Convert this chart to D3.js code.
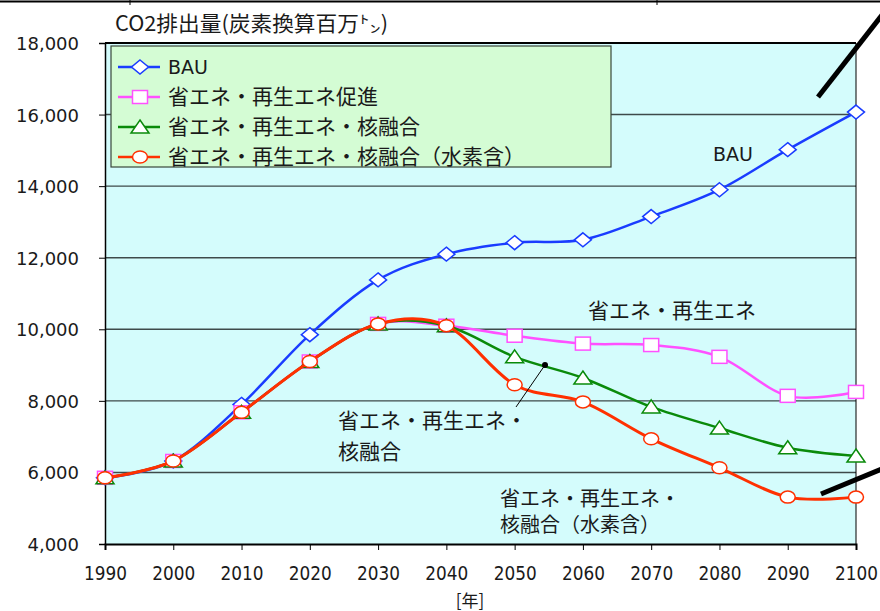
<!DOCTYPE html>
<html><head><meta charset="utf-8">
<script src="https://cdn.jsdelivr.net/npm/d3@7"></script>
<style>
html,body{margin:0;padding:0;background:#fff;}
svg{display:block;}
text{font-family:"DejaVu Sans","Noto Sans CJK JP",sans-serif;fill:#1a1a1a;}
.jp{font-family:"Noto Sans CJK JP","DejaVu Sans",sans-serif;}
</style></head>
<body>
<svg id="c" width="880" height="611"></svg>
<script>
const years = [1990,2000,2010,2020,2030,2040,2050,2060,2070,2080,2090,2100];
const bau   = [5850,6320,7900,9850,11380,12100,12420,12500,13150,13900,15020,16070];
const ren   = [5850,6320,7680,9100,10150,10100,9820,9600,9560,9230,8140,8250];
const fus   = [5850,6320,7680,9100,10150,10100,9230,8640,7830,7240,6690,6460];
const hyd   = [5850,6320,7680,9100,10150,10100,8450,7970,6940,6130,5310,5310];
const yTicks = [4000,6000,8000,10000,12000,14000,16000,18000];
const seriesNames = ["BAU","省エネ・再生エネ促進","省エネ・再生エネ・核融合","省エネ・再生エネ・核融合（水素含）"];
const seriesColors = ["#1a3cff","#ff50ff","#0a8a0a","#ff3000"];
const seriesShapes = ["diamond","square","triangle","circle"];

const svg = d3.select("#c");
const x = d3.scaleLinear().domain([1990,2100]).range([105,856]);
const y = d3.scaleLinear().domain([4000,18000]).range([544,43]);

// top stray line
svg.append("line").attr("x1",0).attr("x2",880).attr("y1",1.5).attr("y2",1.5).attr("stroke","#000").attr("stroke-width",2);
[130,657].forEach(px=>svg.append("line").attr("x1",px).attr("x2",px).attr("y1",0).attr("y2",5).attr("stroke","#000"));

// plot bg
svg.append("rect").attr("x",x(1990)).attr("y",y(18000)).attr("width",x(2100)-x(1990)).attr("height",y(4000)-y(18000)).attr("fill","#d4fcfc");

// gridlines
svg.append("g").selectAll("line").data(yTicks.filter(d=>d>4000&&d<18000)).join("line")
  .attr("x1",x(1990)).attr("x2",x(2100)).attr("y1",d=>y(d)).attr("y2",d=>y(d))
  .attr("stroke","#3e4a4a").attr("stroke-width",1.4);
// frame top/right
svg.append("line").attr("x1",x(1990)).attr("x2",x(2100)).attr("y1",y(18000)).attr("y2",y(18000)).attr("stroke","#000").attr("stroke-width",2);
svg.append("line").attr("x1",x(2100)).attr("x2",x(2100)).attr("y1",y(18000)).attr("y2",y(4000)).attr("stroke","#000").attr("stroke-width",1);

// axes
const yAxis = d3.axisLeft(y).tickValues(yTicks).tickSize(6).tickPadding(20).tickFormat(d3.format(","));
const gy = svg.append("g").attr("transform",`translate(${x(1990)},0)`).call(yAxis);
gy.select(".domain").attr("stroke","#000").attr("stroke-width",1.5);
gy.selectAll("line").attr("stroke","#000");
gy.selectAll("text").attr("font-size",18).attr("fill","#1a1a1a").attr("dy","0.36em");

const xAxis = d3.axisBottom(x).tickValues(years).tickSize(6).tickPadding(16).tickFormat(d3.format("d"));
const gx = svg.append("g").attr("transform",`translate(0,${y(4000)})`).call(xAxis);
gx.select(".domain").attr("stroke","#000").attr("stroke-width",2);
gx.selectAll("line").attr("stroke","#000");
gx.selectAll("text").attr("font-size",20).attr("fill","#1a1a1a")
  .attr("textLength",43).attr("lengthAdjust","spacingAndGlyphs");
svg.selectAll(".tick text").style("font-family","'DejaVu Sans',sans-serif");

// titles
svg.append("text").attr("class","jp").attr("x",115).attr("y",31).attr("font-size",21)
  .attr("textLength",273).attr("lengthAdjust","spacingAndGlyphs").text("CO2排出量(炭素換算百万㌧)");
svg.append("text").attr("class","jp").attr("x",470).attr("y",607).attr("text-anchor","middle").attr("font-size",17).text("[年]");

// series lines
const allSeries = [bau,ren,fus,hyd];
const line = d3.line().x((d,i)=>x(years[i])).y(d=>y(d)).curve(d3.curveCatmullRom.alpha(0));

function marker(g, shape, color, cx, cy){
  if(shape==="diamond"){
    g.append("path").attr("d",`M${cx},${cy-7}L${cx+8.5},${cy}L${cx},${cy+7}L${cx-8.5},${cy}Z`)
     .attr("fill","#fff").attr("stroke",color).attr("stroke-width",1.5);
  } else if(shape==="square"){
    g.append("rect").attr("x",cx-7.5).attr("y",cy-6.5).attr("width",15).attr("height",13)
     .attr("fill","#fff").attr("stroke",color).attr("stroke-width",1.5);
  } else if(shape==="triangle"){
    g.append("path").attr("d",`M${cx},${cy-7}L${cx+9},${cy+6}L${cx-9},${cy+6}Z`)
     .attr("fill","#fff").attr("stroke",color).attr("stroke-width",1.5);
  } else {
    g.append("ellipse").attr("cx",cx).attr("cy",cy).attr("rx",7.5).attr("ry",6)
     .attr("fill","#fff").attr("stroke",color).attr("stroke-width",1.5);
  }
}

allSeries.forEach((s,k)=>{
  const g = svg.append("g");
  g.append("path").attr("d",line(s)).attr("fill","none").attr("stroke",seriesColors[k]).attr("stroke-width",k===3?3:2.5);
  s.forEach((v,i)=>marker(g, seriesShapes[k], seriesColors[k], x(years[i]), y(v)));
});

// legend
const lg = svg.append("g");
lg.append("rect").attr("x",111).attr("y",46).attr("width",500).attr("height",121)
  .attr("fill","#d4fcd4").attr("stroke","#3a463a").attr("stroke-width",1.2);
seriesNames.forEach((n,k)=>{
  const cy = 67 + k*30;
  lg.append("line").attr("x1",118).attr("x2",160).attr("y1",cy).attr("y2",cy).attr("stroke",seriesColors[k]).attr("stroke-width",2.5);
  marker(lg, seriesShapes[k], seriesColors[k], 140, cy);
  lg.append("text").attr("class", k===0?"":"jp").attr("x",168).attr("y",cy+7).attr("font-size",k===0?19:21).text(n);
});

// annotations
svg.append("text").attr("x",733).attr("y",161).attr("text-anchor","middle").attr("font-size",19).text("BAU");
svg.append("text").attr("class","jp").attr("x",588).attr("y",318).attr("font-size",21).text("省エネ・再生エネ");
const a1 = svg.append("text").attr("class","jp").attr("font-size",21);
a1.append("tspan").attr("x",338).attr("y",428).text("省エネ・再生エネ・");
a1.append("tspan").attr("x",338).attr("y",459).text("核融合");
svg.append("line").attr("x1",516).attr("y1",407).attr("x2",545).attr("y2",365).attr("stroke","#000").attr("stroke-width",1);
svg.append("circle").attr("cx",545).attr("cy",365).attr("r",3).attr("fill","#000");
const a2 = svg.append("text").attr("class","jp").attr("font-size",20);
a2.append("tspan").attr("x",500).attr("y",506).text("省エネ・再生エネ・");
a2.append("tspan").attr("x",500).attr("y",532).text("核融合（水素含）");

// thick diagonal strokes
svg.append("line").attr("x1",818).attr("y1",97).attr("x2",882).attr("y2",15).attr("stroke","#000").attr("stroke-width",5);
svg.append("line").attr("x1",821).attr("y1",494).attr("x2",882).attr("y2",469).attr("stroke","#000").attr("stroke-width",5);
</script>
</body></html>
